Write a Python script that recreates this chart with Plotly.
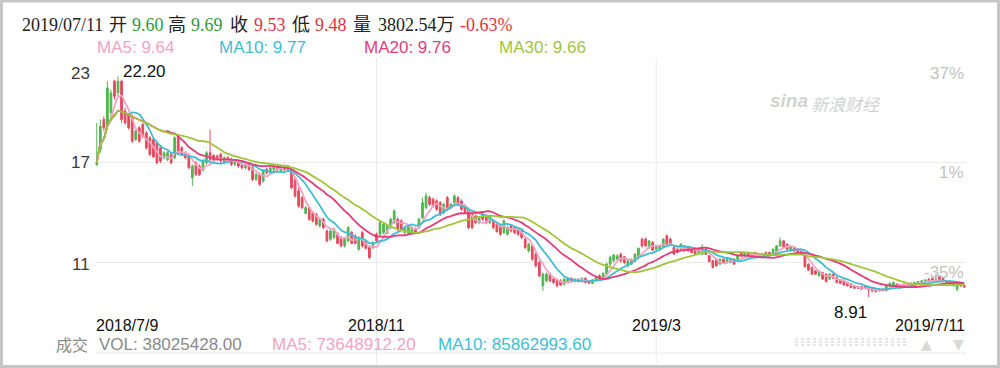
import pandas as pd
import plotly.graph_objects as go

# ---------------- data ----------------
opens = [16.9, 17.8, 19.6, 19.3, 20.0, 21.9, 21.2, 21.9, 20.1, 19.9,
         19.8, 18.4, 19.1, 19.3, 18.8, 18.5, 18.4, 18.2, 17.9, 17.3,
         17.2, 17.5, 17.3, 18.6, 17.9, 17.6, 17.45, 16.1, 17.0, 16.8,
         16.55, 17.0, 17.6, 17.45, 17.4, 17.5, 17.0, 17.3, 17.2, 16.9,
         17.1, 16.9, 16.7, 16.9, 16.7, 16.0, 16.3, 15.9, 16.6, 16.4,
         16.6, 16.8, 16.5, 16.8, 16.6, 16.6, 16.0, 15.3, 14.9, 13.95,
         14.3, 14.0, 13.9, 13.2, 13.6, 12.9, 12.4, 12.5, 12.75, 12.5,
         12.0, 12.3, 12.8, 12.6, 11.8, 12.8, 12.3, 11.9, 11.9, 12.7,
         12.7, 12.8, 12.75, 13.1, 13.4, 13.6, 13.5, 12.8, 12.75, 12.8,
         13.05, 13.1, 13.7, 14.3, 14.9, 14.8, 14.7, 14.6, 14.0, 14.9,
         14.3, 14.6, 14.9, 14.7, 14.4, 14.2, 13.9, 13.8, 13.4, 13.9,
         13.8, 13.4, 13.5, 13.3, 13.2, 12.8, 12.7, 13.2, 13.1, 13.0,
         12.9, 12.4, 11.7, 12.0, 11.5, 11.0, 9.6, 9.9, 10.3, 10.0,
         9.9, 9.9, 9.7, 9.8, 10.05, 9.85, 10.0, 9.85, 10.05, 9.9,
         9.75, 9.9, 10.2, 10.0, 10.3, 10.9, 11.1, 11.2, 11.5, 11.35,
         10.8, 10.9, 11.1, 11.3, 12.4, 12.4, 11.9, 12.2, 11.8, 11.8,
         11.9, 12.6, 12.4, 11.9, 11.8, 11.8, 11.7, 11.95, 11.85, 11.7,
         11.6, 11.5, 11.8, 11.4, 11.1, 11.2, 10.9, 11.2, 11.0, 11.0,
         11.2, 11.1, 11.6, 11.4, 11.6, 11.3, 11.6, 11.45, 11.3, 11.6,
         11.6, 11.5, 11.6, 12.0, 12.3, 12.1, 11.7, 11.9, 11.8, 11.7,
         11.4, 10.9, 10.7, 10.5, 10.2, 10.4, 10.3, 10.0, 10.3, 10.1,
         9.95, 9.9, 9.8, 9.7, 9.6, 9.55, 9.55, 9.55, 9.5, 9.45,
         9.35, 9.4, 9.4, 9.3, 9.55, 9.65, 9.7, 9.65, 9.55, 9.7,
         9.6, 9.7, 9.75, 9.8, 9.85, 10.0, 10.05, 10.0, 10.15, 10.05,
         9.75, 9.85, 9.6, 9.4, 9.7, 9.60]

highs = [19.4, 19.6, 19.8, 21.9, 21.4, 22.0, 22.2, 22.0, 20.3, 20.0,
         19.9, 19.0, 19.2, 19.4, 18.9, 18.6, 18.5, 18.3, 18.0, 17.7,
         17.7, 17.6, 18.6, 18.7, 18.0, 17.7, 17.5, 16.9, 17.1, 16.9,
         17.2, 17.7, 19.0, 17.5, 17.5, 17.6, 17.4, 17.4, 17.3, 17.2,
         17.2, 17.0, 17.0, 17.0, 16.8, 16.4, 16.4, 16.6, 16.7, 16.8,
         16.9, 16.9, 16.9, 16.9, 16.9, 16.7, 16.1, 15.5, 15.0, 14.4,
         14.4, 14.1, 14.0, 13.7, 13.7, 13.0, 13.0, 13.1, 12.8, 12.6,
         12.5, 13.2, 12.9, 12.7, 12.6, 12.9, 12.4, 12.0, 12.3, 12.8,
         13.5, 13.4, 13.3, 13.7, 14.2, 13.7, 13.6, 13.2, 13.2, 13.2,
         13.1, 13.7, 14.9, 15.2, 15.0, 14.9, 14.8, 14.7, 14.6, 15.0,
         14.6, 15.1, 15.0, 14.8, 14.5, 14.3, 14.0, 13.9, 13.8, 14.0,
         13.9, 13.9, 13.6, 13.4, 13.3, 13.6, 13.2, 13.3, 13.2, 13.1,
         13.0, 12.5, 12.2, 12.1, 11.6, 11.1, 10.4, 10.4, 10.4, 10.1,
         10.0, 10.0, 10.1, 10.1, 10.1, 10.05, 10.05, 10.1, 10.1, 9.95,
         10.0, 10.15, 10.3, 10.4, 11.0, 11.4, 11.5, 11.5, 11.6, 11.4,
         11.15, 11.25, 11.55, 11.9, 12.5, 12.5, 12.35, 12.3, 12.05, 12.05,
         12.45, 12.7, 12.5, 12.0, 11.85, 12.15, 12.05, 12.0, 11.9, 11.75,
         11.9, 12.1, 11.85, 11.45, 11.15, 11.25, 11.25, 11.25, 11.25, 11.25,
         11.25, 11.45, 11.65, 11.65, 11.65, 11.55, 11.65, 11.5, 11.55, 11.65,
         11.65, 11.85, 12.05, 12.5, 12.35, 12.15, 12.0, 11.95, 11.85, 11.75,
         11.45, 10.95, 10.75, 10.55, 10.55, 10.45, 10.35, 10.35, 10.35, 10.15,
         10.0, 9.95, 9.85, 9.75, 9.65, 9.6, 9.6, 9.6, 9.55, 9.5,
         9.4, 9.45, 9.45, 9.65, 9.8, 9.85, 9.75, 9.7, 9.75, 9.75,
         9.8, 9.85, 9.9, 9.95, 10.0, 10.05, 10.1, 10.3, 10.2, 10.1,
         9.9, 9.9, 9.8, 9.7, 9.75, 9.69]

lows = [16.8, 17.6, 18.9, 19.2, 19.7, 20.8, 21.0, 19.4, 19.3, 19.0,
        18.2, 18.3, 18.2, 18.5, 17.8, 17.4, 17.3, 16.9, 17.0, 17.2,
        17.1, 16.9, 17.2, 17.5, 17.4, 17.2, 16.6, 15.6, 16.2, 16.2,
        16.5, 16.9, 17.1, 17.1, 17.1, 17.0, 16.9, 17.0, 16.8, 16.8,
        16.7, 16.6, 16.6, 16.5, 15.9, 15.9, 15.6, 15.8, 16.3, 16.3,
        16.5, 16.5, 16.4, 16.5, 16.5, 15.4, 14.9, 14.3, 14.2, 13.9,
        13.5, 13.4, 13.2, 13.1, 13.0, 12.2, 12.3, 12.4, 12.1, 11.9,
        11.9, 12.2, 12.1, 12.1, 11.7, 11.9, 11.8, 11.2, 11.8, 12.2,
        12.6, 12.7, 12.7, 13.0, 13.3, 12.9, 12.9, 12.7, 12.7, 12.7,
        12.7, 13.0, 13.6, 14.2, 14.4, 14.3, 14.1, 13.8, 13.9, 14.1,
        14.2, 14.5, 14.4, 14.1, 13.9, 13.0, 13.0, 13.3, 13.3, 13.5,
        13.3, 13.3, 13.0, 12.8, 12.6, 12.7, 12.6, 12.8, 12.7, 12.6,
        12.4, 11.8, 11.6, 11.1, 10.7, 10.1, 9.3, 9.8, 9.8, 9.7,
        9.5, 9.6, 9.6, 9.75, 9.8, 9.8, 9.8, 9.8, 9.75, 9.7,
        9.7, 9.85, 9.9, 9.95, 10.2, 10.8, 11.0, 11.1, 11.0, 10.9,
        10.7, 10.85, 11.0, 11.2, 11.9, 11.95, 11.8, 11.7, 11.7, 11.75,
        11.85, 12.0, 12.0, 11.45, 11.55, 11.75, 11.65, 11.65, 11.55, 11.45,
        11.55, 11.45, 11.45, 11.0, 10.65, 10.75, 10.85, 10.95, 10.95, 10.95,
        10.85, 11.05, 11.35, 11.35, 11.35, 11.25, 11.35, 11.25, 11.25, 11.35,
        11.35, 11.45, 11.55, 11.95, 11.85, 11.75, 11.65, 11.65, 11.55, 11.45,
        10.7, 10.5, 10.25, 10.25, 10.15, 9.95, 9.8, 9.95, 10.0, 9.75,
        9.7, 9.6, 9.55, 9.45, 9.4, 9.4, 9.35, 9.4, 8.91, 9.2,
        9.2, 9.25, 9.3, 9.25, 9.5, 9.6, 9.5, 9.5, 9.5, 9.55,
        9.55, 9.65, 9.7, 9.75, 9.8, 9.8, 9.85, 9.75, 9.85, 9.8,
        9.7, 9.65, 9.55, 9.25, 9.55, 9.48]

closes = [17.0, 19.2, 19.1, 21.5, 21.2, 21.0, 21.9, 19.6, 19.4, 19.1,
          18.3, 18.9, 18.3, 18.6, 17.9, 17.5, 17.35, 17.0, 17.1, 17.6,
          17.6, 17.0, 18.5, 17.6, 17.5, 17.3, 16.7, 16.8, 16.3, 16.3,
          17.1, 17.6, 17.2, 17.15, 17.2, 17.1, 17.3, 17.1, 16.9, 17.1,
          16.8, 16.7, 16.9, 16.6, 16.0, 16.3, 15.7, 16.5, 16.4, 16.7,
          16.8, 16.6, 16.8, 16.6, 16.8, 15.5, 15.0, 14.4, 14.3, 14.3,
          13.6, 13.5, 13.3, 13.6, 13.1, 12.3, 12.9, 13.0, 12.15, 12.0,
          12.4, 13.1, 12.15, 12.15, 12.5, 12.0, 11.85, 11.3, 12.2, 12.3,
          13.4, 13.3, 13.2, 13.6, 14.1, 13.0, 13.0, 13.1, 13.1, 13.1,
          12.75, 13.6, 14.6, 15.0, 14.5, 14.4, 14.2, 13.9, 14.5, 14.2,
          14.5, 15.0, 14.5, 14.2, 14.0, 13.1, 13.1, 13.4, 13.7, 13.6,
          13.4, 13.8, 13.1, 12.85, 12.7, 13.5, 13.1, 12.9, 12.8, 12.7,
          12.5, 11.9, 12.1, 11.2, 10.8, 10.2, 10.3, 10.3, 9.9, 9.8,
          9.6, 9.65, 10.0, 10.05, 9.85, 10.0, 9.85, 10.05, 9.8, 9.75,
          9.95, 10.1, 9.95, 10.35, 10.9, 11.3, 11.45, 11.4, 11.1, 11.0,
          11.1, 11.2, 11.5, 11.85, 12.0, 12.0, 12.3, 11.75, 12.0, 12.0,
          12.4, 12.1, 12.1, 11.5, 11.6, 12.1, 12.0, 11.7, 11.6, 11.5,
          11.85, 11.9, 11.5, 11.05, 10.7, 10.8, 11.2, 11.0, 11.2, 11.2,
          10.9, 11.4, 11.4, 11.6, 11.4, 11.5, 11.4, 11.3, 11.5, 11.4,
          11.4, 11.8, 12.0, 12.3, 11.9, 11.8, 11.95, 11.7, 11.6, 11.5,
          10.75, 10.55, 10.3, 10.3, 10.5, 10.0, 9.85, 10.3, 10.05, 9.8,
          9.75, 9.65, 9.6, 9.5, 9.45, 9.45, 9.4, 9.45, 9.35, 9.3,
          9.25, 9.3, 9.35, 9.6, 9.75, 9.8, 9.55, 9.55, 9.7, 9.6,
          9.75, 9.8, 9.85, 9.9, 9.95, 9.85, 9.9, 10.0, 9.9, 9.85,
          9.85, 9.7, 9.75, 9.63, 9.59, 9.53]

holidays = ["2018-09-24", "2018-10-01", "2018-10-02", "2018-10-03", "2018-10-04",
            "2018-10-05", "2018-12-31", "2019-01-01", "2019-02-04", "2019-02-05",
            "2019-02-06", "2019-02-07", "2019-02-08", "2019-04-05", "2019-05-01",
            "2019-05-02", "2019-05-03", "2019-06-07"]
dates = [d.strftime("%Y-%m-%d") for d in pd.bdate_range("2018-07-09", "2019-07-11")
         if d.strftime("%Y-%m-%d") not in holidays]
dates = dates[:len(closes)]

ma_windows = [5, 10, 20, 30]
ma_colors = ["#f4a3c4", "#3dbfd3", "#e33d79", "#a2c43e"]

left_ticks = [23, 17, 11]
right_labels = ["37%", "1%", "-35%"]
grid_dates = ["2018-11-05", "2019-03-05"]
grid_labels = ["2018/11", "2019/3"]
first_label = "2018/7/9"
last_label = "2019/7/11"

# header pieces: (text, colour key)
header_parts = [("2019/07/11", "k"), ("开", "k"), ("9.60", "g"), ("高", "k"), ("9.69", "g"),
                ("收", "k"), ("9.53", "r"), ("低", "k"), ("9.48", "r"), ("量", "k"),
                ("3802.54万", "k"), ("-0.63%", "r")]
vol_text = "VOL: 38025428.00"
vol_ma5 = "MA5: 73648912.20"
vol_ma10 = "MA10: 85862993.60"

GREEN = "#52b552"
RED = "#e6495d"
HDR_COL = {"k": "#222222", "g": "#2f9a3c", "r": "#e0343e"}

# ---------------- layout helpers (pixels -> paper) ----------------
W, H = 1000, 368
L, R, T, B = 95, 34, 63, 39
PW, PH = W - L - R, H - T - B


def px(x):
    return (x - L) / PW


def py(y):
    return (H - B - y) / PH


fig = go.Figure()
fig.add_trace(go.Candlestick(
    x=dates, open=opens, high=highs, low=lows, close=closes,
    increasing=dict(line=dict(color=GREEN, width=1), fillcolor=GREEN),
    decreasing=dict(line=dict(color=RED, width=1), fillcolor=RED),
    whiskerwidth=0, hoverinfo="skip", showlegend=False))

cs = pd.Series(closes)
ma_last = {}
for n, col in zip(ma_windows, ma_colors):
    m = cs.rolling(n, min_periods=1).mean()
    ma_last[n] = m.iloc[-1]
    fig.add_trace(go.Scatter(x=dates, y=m, mode="lines",
                             line=dict(color=col, width=1.8, shape="spline", smoothing=0.6),
                             hoverinfo="skip", showlegend=False))

ann = []
SANS = "Liberation Sans, Arial, Noto Sans CJK SC"
SERIF = "Liberation Serif, Times New Roman, Noto Sans CJK SC"

# header, each piece at its own place
HEAD_Y = 25
header_x = [20, 107, 130, 166, 189, 228, 252, 290, 313, 351, 376, 458]
for (t, c), xp in zip(header_parts, header_x):
    ann.append(dict(x=px(xp), y=py(HEAD_Y), xref="paper", yref="paper", text=t, showarrow=False,
                    xanchor="left", yanchor="middle",
                    font=dict(family=SERIF, size=18, color=HDR_COL[c])))

# MA legend row
MA_Y = 47
for n, col, xp in zip(ma_windows, ma_colors, [95, 217, 362, 497]):
    ann.append(dict(x=px(xp), y=py(MA_Y), xref="paper", yref="paper",
                    text=f"MA{n}: {ma_last[n]:.2f}", showarrow=False, xanchor="left",
                    yanchor="middle", font=dict(family=SANS, size=17, color=col)))

# left price labels
for v, ys in zip(left_ticks, [-10, 0, -2]):
    ann.append(dict(x=px(92), y=v, xref="paper", yref="y", text=str(v), showarrow=False,
                    xanchor="right", yanchor="middle", yshift=ys,
                    font=dict(family=SANS, size=17, color="#3a3a3a")))
# right percent labels
for v, t in zip(left_ticks, right_labels):
    ann.append(dict(x=px(966), y=v, xref="paper", yref="y", text=t, showarrow=False,
                    xanchor="right", yanchor="middle", yshift=-10,
                    font=dict(family=SANS, size=17, color="#c2c2c2")))

# date labels
DATE_Y = 325
ann.append(dict(x=dates[0], y=py(DATE_Y), xref="x", yref="paper", text=first_label, showarrow=False,
                xanchor="left", yanchor="middle", xshift=-3, font=dict(family=SANS, size=16, color="#111")))
ann.append(dict(x=dates[-1], y=py(DATE_Y), xref="x", yref="paper", text=last_label, showarrow=False,
                xanchor="right", yanchor="middle", xshift=3, font=dict(family=SANS, size=16, color="#111")))
for d, t in zip(grid_dates, grid_labels):
    ann.append(dict(x=d, y=py(DATE_Y), xref="x", yref="paper", text=t, showarrow=False,
                    xanchor="center", yanchor="middle", font=dict(family=SANS, size=16, color="#111")))

# high / low labels
hi = max(highs)
lo = min(lows)
i_hi = highs.index(hi)
i_lo = lows.index(lo)
ann.append(dict(x=dates[i_hi], y=hi, xref="x", yref="y", text=f"{hi:.2f}", showarrow=False,
                xanchor="left", yanchor="middle", xshift=3, yshift=5,
                font=dict(family=SANS, size=17, color="#111")))
ann.append(dict(x=dates[i_lo], y=lo, xref="x", yref="y", text=f"{lo:.2f}", showarrow=False,
                xanchor="right", yanchor="top", xshift=0, yshift=-4,
                font=dict(family=SANS, size=17, color="#111")))

# volume row
VOL_Y = 344
ann.append(dict(x=px(90), y=py(VOL_Y), xref="paper", yref="paper", text="成交", showarrow=False,
                xanchor="right", yanchor="middle", font=dict(family="Noto Sans CJK SC", size=16, color="#8a8a8a")))
for xp, t, col in [(97, vol_text, "#8a8a8a"), (270, vol_ma5, ma_colors[0]), (436, vol_ma10, ma_colors[1])]:
    ann.append(dict(x=px(xp), y=py(VOL_Y), xref="paper", yref="paper", text=t, showarrow=False,
                    xanchor="left", yanchor="middle", font=dict(family=SANS, size=17, color=col)))

# arrows
for xp, t in [(926, "▲"), (958, "▼")]:
    ann.append(dict(x=px(xp), y=py(VOL_Y), xref="paper", yref="paper", text=t, showarrow=False,
                    xanchor="center", yanchor="middle", font=dict(family="DejaVu Sans", size=14, color="#d9d9d9")))

# watermark
ann.append(dict(x=px(789), y=py(100), xref="paper", yref="paper", text="<b><i>sina</i></b>", showarrow=False,
                xanchor="center", yanchor="middle", font=dict(family=SANS, size=19, color="#d2d2d2")))
ann.append(dict(x=px(846), y=py(103), xref="paper", yref="paper", text="<i>新浪财经</i>", showarrow=False,
                xanchor="center", yanchor="middle", font=dict(family="Noto Sans CJK SC", size=17, color="#d2d2d2")))

shapes = []
for d in grid_dates:
    shapes.append(dict(type="line", xref="x", yref="paper", x0=d, x1=d, y0=py(365), y1=py(58),
                       line=dict(color="#ebebeb", width=1), layer="below"))
shapes.append(dict(type="line", xref="paper", yref="paper", x0=0, x1=1, y0=py(353), y1=py(353),
                   line=dict(color="#e8e8e8", width=1), layer="below"))
for yy in [339, 342, 345]:
    shapes.append(dict(type="line", xref="paper", yref="paper", x0=px(795), x1=px(908), y0=py(yy), y1=py(yy),
                       line=dict(color="#dadada", width=1.5, dash="dot")))
shapes.append(dict(type="rect", xref="paper", yref="paper", x0=px(1.5), x1=px(998.5), y0=py(366.5), y1=py(1),
                   line=dict(color="#c6c6c6", width=3)))

fig.update_layout(
    width=W, height=H, autosize=False,
    margin=dict(l=L, r=R, t=T, b=B, pad=0),
    paper_bgcolor="white", plot_bgcolor="white",
    showlegend=False, hovermode=False,
    xaxis=dict(type="category", range=[-0.5, len(dates) - 0.5], showgrid=False, showticklabels=False,
               ticks="", showline=False, zeroline=False, rangeslider=dict(visible=False), fixedrange=True),
    yaxis=dict(range=[7.0, 23.0], tickvals=left_ticks, showticklabels=False, ticks="",
               showgrid=True, gridcolor="#ebebeb", gridwidth=1, zeroline=False, showline=False, fixedrange=True),
    annotations=ann, shapes=shapes,
)

fig.write_html("out.html", config={"displayModeBar": False},
               post_script="document.body.style.margin='0px';document.body.style.overflow='hidden';")
